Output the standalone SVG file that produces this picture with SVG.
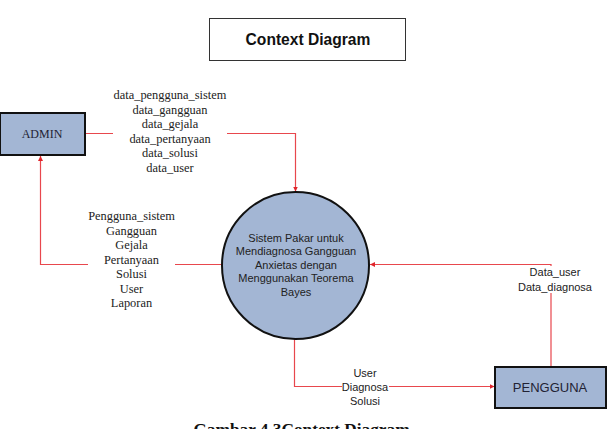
<svg xmlns="http://www.w3.org/2000/svg" width="608" height="429" viewBox="0 0 608 429">
<defs>
<marker id="arr" viewBox="0 0 10 10" refX="10" refY="5" markerWidth="5" markerHeight="5" orient="auto" markerUnits="userSpaceOnUse">
<path d="M0,0 L10,5 L0,10 z" fill="#e0252b"/>
</marker>
</defs>
<style>
.ent{fill:#a3b6d4;stroke:#111;stroke-width:2}
.line{fill:none;stroke:#e8474d;stroke-width:1.2}
.tm{font-family:"Liberation Serif",serif;font-size:12.4px;fill:#222;text-anchor:middle}
.ar{font-family:"Liberation Sans",Arial,sans-serif;font-size:11px;fill:#222;text-anchor:middle}
</style>
<rect width="608" height="429" fill="#fff"/>
<g id="title">
<rect x="209.5" y="18.5" width="196" height="42" fill="#fff" stroke="#333" stroke-width="1"/>
<text x="308" y="44.5" font-family="Liberation Sans,Arial,sans-serif" font-size="15.6" font-weight="bold" fill="#111" text-anchor="middle">Context Diagram</text>
</g>
<g id="connectors">
<path class="line" d="M85,133.5 H113 M227,133.5 H295.5 V191.5" marker-end="url(#arr)"/>
<path class="line" d="M222,264.5 H175 M88,264.5 H40.5 V156" marker-end="url(#arr)"/>
<path class="line" d="M551,367 V293 M551,271 V264.5 H370" marker-end="url(#arr)"/>
<path class="line" d="M294.5,339 V386.5 H494.5" marker-end="url(#arr)"/>
<g class="tm">
<text x="170" y="99">data_pengguna_sistem</text>
<text x="170" y="113.5">data_gangguan</text>
<text x="170" y="128">data_gejala</text>
<text x="170" y="142.5">data_pertanyaan</text>
<text x="170" y="157">data_solusi</text>
<text x="170" y="171.5">data_user</text>
<text x="131.5" y="220">Pengguna_sistem</text>
<text x="131.5" y="234.5">Gangguan</text>
<text x="131.5" y="249">Gejala</text>
<text x="131.5" y="263.5">Pertanyaan</text>
<text x="131.5" y="278">Solusi</text>
<text x="131.5" y="292.5">User</text>
<text x="131.5" y="307">Laporan</text>
</g>
<rect x="527" y="266" width="56" height="26" fill="#fff"/>
<text class="ar" x="555" y="276">Data_user</text>
<text class="ar" x="555" y="290.5">Data_diagnosa</text>
<rect x="342" y="381" width="47" height="11" fill="#fff"/>
<text class="ar" x="365" y="377">User</text>
<text class="ar" x="365" y="390.7">Diagnosa</text>
<text class="ar" x="365" y="405">Solusi</text>
</g>
<g id="admin">
<rect class="ent" x="0" y="113" width="85" height="42"/>
<text x="42" y="138" font-family="Liberation Serif,serif" font-size="12" fill="#223" text-anchor="middle">ADMIN</text>
</g>
<g id="sistem">
<circle class="ent" cx="295.5" cy="265.5" r="73.5"/>
<g class="ar" fill="#111">
<text x="296" y="241.5">Sistem Pakar untuk</text>
<text x="296" y="255">Mendiagnosa Gangguan</text>
<text x="296" y="268.5">Anxietas dengan</text>
<text x="296" y="282">Menggunakan Teorema</text>
<text x="296" y="295.5">Bayes</text>
</g>
</g>
<g id="pengguna">
<rect class="ent" x="495" y="367" width="111" height="41"/>
<text x="550" y="392" font-family="Liberation Sans,Arial,sans-serif" font-size="13" fill="#223" text-anchor="middle">PENGGUNA</text>
</g>
<text x="301.5" y="435" font-family="Liberation Serif,serif" font-size="17.3" font-weight="bold" fill="#111" text-anchor="middle">Gambar 4.3Context Diagram</text>
</svg>
